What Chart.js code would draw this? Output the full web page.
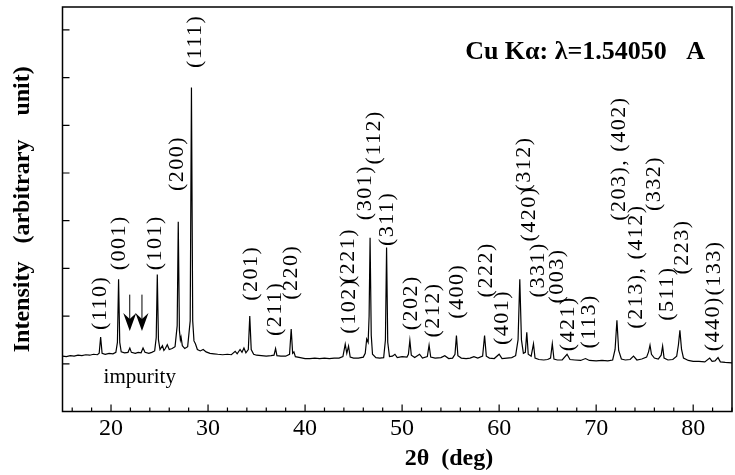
<!DOCTYPE html>
<html>
<head>
<meta charset="utf-8">
<script src="https://cdn.jsdelivr.net/npm/chart.js@4.4.1/dist/chart.umd.min.js"></script>
<style>
  html, body { margin: 0; padding: 0; background: #fff; }
  #wrap { width: 735px; height: 475px; }
</style>
</head>
<body>
<div id="wrap"><canvas id="xrd"></canvas></div>
<script>
// scan: 2theta (deg) and intensity (arb.)
const twoTheta = [
  15.0, 15.4, 15.8, 16.2, 16.6, 17.0, 17.4, 17.8, 18.2, 18.6,
  18.78, 18.93, 19.08, 19.4, 19.8, 20.2, 20.5, 20.66, 20.78, 20.9,
  21.05, 21.4, 21.75, 21.94, 22.1, 22.5, 22.8, 23.1, 23.3, 23.5,
  23.9, 24.2, 24.5, 24.66, 24.77, 24.89, 25.05, 25.3, 25.45, 25.6,
  25.8, 26.0, 26.3, 26.6, 26.82, 26.93, 27.05, 27.15, 27.22, 27.35,
  27.6, 27.9, 28.16, 28.29, 28.42, 28.55, 28.7, 28.9, 29.2, 29.5,
  29.8, 30.2, 30.6, 31.0, 31.5, 32.0, 32.4, 32.8, 33.0, 33.3,
  33.5, 33.7, 33.9, 34.15, 34.3, 34.45, 34.7, 35.0, 35.5, 36.0,
  36.5, 36.8, 36.96, 37.1, 37.5, 38.0, 38.4, 38.57, 38.72, 38.85,
  39.0, 39.5, 40.0, 40.5, 41.0, 41.5, 42.0, 42.5, 43.0, 43.5,
  43.9, 44.14, 44.3, 44.48, 44.65, 45.0, 45.5, 46.0, 46.2, 46.35,
  46.5, 46.6, 46.7, 46.82, 46.95, 47.3, 47.7, 48.1, 48.28, 48.4,
  48.52, 48.7, 49.0, 49.26, 49.5, 50.0, 50.5, 50.65, 50.8, 50.95,
  51.3, 51.8, 52.1, 52.6, 52.78, 52.95, 53.4, 54.0, 54.4, 54.8,
  55.2, 55.45, 55.6, 55.75, 56.1, 56.6, 57.0, 57.4, 57.8, 58.3,
  58.5, 58.68, 59.0, 59.5, 60.0, 60.3, 60.8, 61.3, 61.7, 61.95,
  62.13, 62.3, 62.5, 62.7, 62.85, 63.0, 63.3, 63.54, 63.7, 64.1,
  64.6, 65.0, 65.3, 65.48, 65.65, 66.0, 66.5, 67.0, 67.3, 67.8,
  68.4, 68.9, 69.3, 70.0, 70.6, 71.2, 71.7, 71.95, 72.14, 72.32,
  72.6, 73.0, 73.5, 73.85, 74.2, 74.7, 75.2, 75.4, 75.55, 75.7,
  76.0, 76.4, 76.7, 76.85, 77.0, 77.4, 77.9, 78.3, 78.48, 78.63,
  78.8, 79.0, 79.5, 80.0, 80.6, 81.2, 81.7, 81.95, 82.25, 82.56,
  82.8, 83.3, 84.0
];
const intensity = [
  1.16, 1.15, 1.17, 1.16, 1.18, 1.17, 1.19, 1.18, 1.20, 1.19,
  1.22, 1.56, 1.22, 1.20, 1.22, 1.21, 1.24, 1.45, 2.77, 1.45,
  1.25, 1.23, 1.24, 1.33, 1.24, 1.22, 1.24, 1.23, 1.33, 1.24,
  1.22, 1.24, 1.27, 1.55, 2.87, 1.50, 1.30, 1.38, 1.28, 1.32,
  1.40, 1.30, 1.32, 1.36, 1.80, 3.98, 1.70, 1.50, 1.56, 1.38,
  1.32, 1.36, 1.90, 6.79, 1.90, 1.48, 1.42, 1.30, 1.27, 1.30,
  1.25, 1.22, 1.21, 1.20, 1.19, 1.20, 1.19, 1.26, 1.21, 1.30,
  1.24, 1.33, 1.23, 1.30, 2.00, 1.30, 1.20, 1.18, 1.17, 1.16,
  1.17, 1.18, 1.32, 1.17, 1.16, 1.16, 1.20, 1.73, 1.22, 1.25,
  1.15, 1.13, 1.11, 1.11, 1.12, 1.11, 1.12, 1.11, 1.12, 1.12,
  1.15, 1.41, 1.22, 1.37, 1.14, 1.12, 1.12, 1.14, 1.22, 1.52,
  1.45, 2.00, 3.64, 1.60, 1.20, 1.13, 1.12, 1.13, 1.50, 3.44,
  1.45, 1.15, 1.16, 1.20, 1.13, 1.15, 1.14, 1.20, 1.49, 1.18,
  1.13, 1.20, 1.12, 1.15, 1.39, 1.14, 1.12, 1.13, 1.17, 1.11,
  1.12, 1.20, 1.59, 1.17, 1.12, 1.11, 1.12, 1.15, 1.12, 1.16,
  1.59, 1.16, 1.12, 1.11, 1.20, 1.11, 1.12, 1.13, 1.17, 1.50,
  2.77, 1.50, 1.22, 1.24, 1.66, 1.20, 1.16, 1.42, 1.12, 1.09,
  1.08, 1.09, 1.12, 1.42, 1.10, 1.08, 1.08, 1.20, 1.09, 1.08,
  1.07, 1.11, 1.07, 1.06, 1.07, 1.06, 1.08, 1.30, 1.91, 1.28,
  1.10, 1.08, 1.09, 1.16, 1.08, 1.10, 1.14, 1.25, 1.39, 1.20,
  1.12, 1.10, 1.18, 1.37, 1.12, 1.08, 1.09, 1.16, 1.40, 1.70,
  1.30, 1.12, 1.07, 1.05, 1.05, 1.04, 1.12, 1.05, 1.06, 1.13,
  1.04, 1.03, 1.02
];

const xTickLabels = [20, 30, 40, 50, 60, 70, 80];

// reflection labels, anchored at (2theta, intensity) of the text centre
const peakLabels = [
  "(110)", "(001)", "(101)", "(200)", "(111)", "(201)", "(211)", "(220)",
  "(102)", "(221)", "(301)", "(112)", "(311)", "(202)", "(212)", "(400)",
  "(222)", "(401)", "(312)", "(420)", "(331)", "(003)", "(421)", "(113)",
  "(203), (402)", "(213), (412)", "(332)", "(511)", "(223)", "(440)", "(133)"
];
const labelX = [
  18.93, 20.82, 24.57, 26.80, 28.65, 34.49, 36.89, 38.60,
  44.58, 44.40, 46.24, 47.10, 48.43, 50.91, 53.22, 55.70,
  58.69, 60.32, 62.54, 63.05, 64.00, 65.96, 67.07, 69.30,
  72.38, 74.08, 75.97, 77.33, 78.87, 82.03, 82.21
];
const labelY = [
  2.28, 3.54, 3.54, 5.20, 7.76, 2.90, 2.15, 2.92,
  2.21, 3.27, 4.59, 5.75, 4.04, 2.28, 2.13, 2.52,
  2.97, 1.97, 5.19, 4.14, 2.97, 2.84, 1.84, 1.89,
  5.30, 3.04, 4.78, 2.47, 3.45, 1.84, 3.01
];

// impurity arrows
const impurityX = [21.93, 23.19];
const arrowFrom = 2.45;
const arrowTo = 1.69;

const serif = '"Liberation Serif", "Times New Roman", serif';

const xrdDecor = {
  id: "xrdDecor",
  afterDraw(chart) {
    const { ctx, chartArea: a } = chart;
    const x = chart.scales.x;
    const y = chart.scales.y;
    ctx.save();
    ctx.strokeStyle = "#000";
    ctx.fillStyle = "#000";

    // frame
    ctx.lineWidth = 1.5;
    ctx.strokeRect(a.left, a.top, a.right - a.left, a.bottom - a.top);

    // ticks pointing inwards
    ctx.lineWidth = 1.2;
    ctx.beginPath();
    x.ticks.forEach((t) => {
      const px = x.getPixelForValue(t.value);
      const len = t.value % 10 === 0 ? 7 : 4;
      ctx.moveTo(px, a.bottom);
      ctx.lineTo(px, a.bottom - len);
    });
    y.ticks.forEach((t) => {
      if (t.value <= 0) return;
      const py = y.getPixelForValue(t.value);
      ctx.moveTo(a.left, py);
      ctx.lineTo(a.left + 7, py);
    });
    ctx.stroke();

    // reflection labels
    ctx.font = `22px ${serif}`;
    ctx.textAlign = "center";
    ctx.textBaseline = "middle";
    if ("letterSpacing" in ctx) ctx.letterSpacing = "1.5px";
    peakLabels.forEach((txt, i) => {
      ctx.save();
      ctx.translate(x.getPixelForValue(labelX[i]), y.getPixelForValue(labelY[i]));
      ctx.rotate(-Math.PI / 2);
      ctx.fillText(txt, 0, 0);
      ctx.restore();
    });
    if ("letterSpacing" in ctx) ctx.letterSpacing = "0px";

    // arrows
    ctx.lineWidth = 1;
    impurityX.forEach((v) => {
      const px = x.getPixelForValue(v);
      const top = y.getPixelForValue(arrowFrom);
      const tip = y.getPixelForValue(arrowTo);
      ctx.beginPath();
      ctx.moveTo(px, top);
      ctx.lineTo(px, tip - 10);
      ctx.stroke();
      ctx.beginPath();
      ctx.moveTo(px, tip);
      ctx.lineTo(px - 6.5, tip - 18);
      ctx.lineTo(px, tip - 12);
      ctx.lineTo(px + 6.5, tip - 18);
      ctx.closePath();
      ctx.fill();
    });

    ctx.font = `21px ${serif}`;
    ctx.fillText("impurity", x.getPixelForValue(22.96), y.getPixelForValue(0.72));

    // wavelength note
    ctx.font = `bold 26px ${serif}`;
    ctx.textAlign = "right";
    ctx.textBaseline = "alphabetic";
    ctx.fillText("Cu K\u03b1: \u03bb=1.54050   A", x.getPixelForValue(81.23), y.getPixelForValue(7.40));

    // x axis title
    ctx.font = `bold 24px ${serif}`;
    ctx.textAlign = "center";
    ctx.textBaseline = "middle";
    ctx.fillText("2\u03b8  (deg)", a.left + 386.5, a.bottom + 47);

    ctx.restore();
  },
};

new Chart(document.getElementById("xrd"), {
  type: "line",
  data: {
    datasets: [
      {
        data: twoTheta.map((v, i) => ({ x: v, y: intensity[i] })),
        borderColor: "#000",
        borderWidth: 1.2,
        pointRadius: 0,
        tension: 0,
        fill: false,
      },
    ],
  },
  options: {
    responsive: true,
    maintainAspectRatio: false,
    animation: false,
    layout: {
      padding: { left: 0, right: 0, top: 7, bottom: 28.7 },
    },
    plugins: {
      legend: { display: false },
      tooltip: { enabled: false },
    },
    scales: {
      x: {
        type: "linear",
        min: 15,
        max: 84,
        grid: { display: false, drawTicks: false, tickLength: 0 },
        border: { display: false },
        ticks: {
          stepSize: 2,
          includeBounds: false,
          autoSkip: false,
          maxRotation: 0,
          padding: 3,
          color: "#000",
          font: { family: serif, size: 24 },
          callback: (v) => (xTickLabels.includes(v) ? String(v) : ""),
        },
      },
      y: {
        type: "linear",
        min: 0,
        max: 8.48,
        grid: { display: false, drawTicks: false, tickLength: 0 },
        border: { display: false },
        ticks: { display: false, stepSize: 1, includeBounds: false },
        title: {
          display: true,
          text: "Intensity   (arbitrary    unit)",
          color: "#000",
          font: { family: serif, size: 24, weight: "bold" },
          padding: { top: 8.6, bottom: 25.1 },
        },
      },
    },
  },
  plugins: [xrdDecor],
});
</script>
</body>
</html>
